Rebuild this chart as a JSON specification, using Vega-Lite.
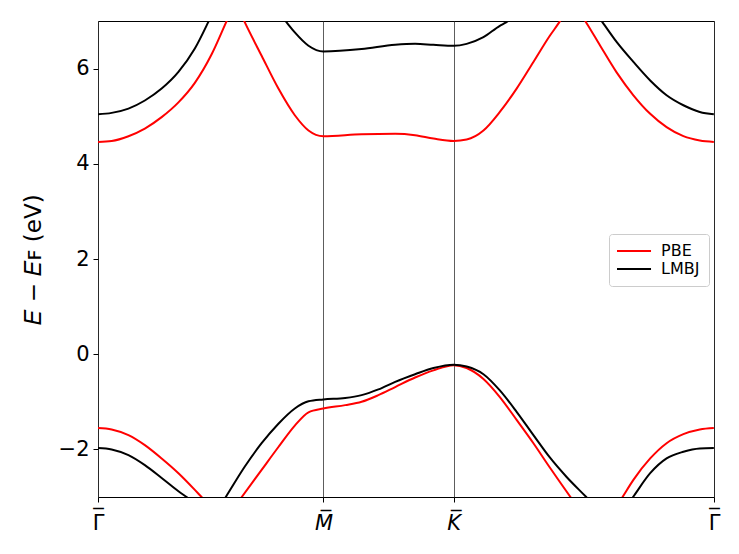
{
  "$schema": "https://vega.github.io/schema/vega-lite/v6.json",
  "autosize": {"type": "none"},
  "padding": {"left": 98, "top": 21, "right": 25, "bottom": 57},
  "width": 616,
  "height": 476,
  "background": "white",
  "config": {
    "font": "DejaVu Sans",
    "view": {"stroke": "#000", "strokeWidth": 1},
    "axis": {
      "domain": false,
      "tickColor": "#000",
      "labelColor": "#000",
      "titleColor": "#000",
      "tickSize": 5,
      "tickWidth": 1,
      "labelFont": "DejaVu Sans",
      "titleFont": "DejaVu Sans",
      "labelFontSize": 21,
      "titleFontSize": 23,
      "titleFontWeight": "normal"
    }
  },
  "datasets": {
    "bands": [
      {"method": "PBE", "band": "c", "k": 0, "E": 4.46},
      {"method": "PBE", "band": "c", "k": 0.035, "E": 4.48},
      {"method": "PBE", "band": "c", "k": 0.078, "E": 4.58},
      {"method": "PBE", "band": "c", "k": 0.12, "E": 4.74},
      {"method": "PBE", "band": "c", "k": 0.163, "E": 4.98},
      {"method": "PBE", "band": "c", "k": 0.206, "E": 5.29},
      {"method": "PBE", "band": "c", "k": 0.248, "E": 5.7},
      {"method": "PBE", "band": "c", "k": 0.291, "E": 6.3},
      {"method": "PBE", "band": "c", "k": 0.328, "E": 6.97},
      {"method": "PBE", "band": "c", "k": 0.352, "E": 7.4},
      {"method": "PBE", "band": "c", "k": 0.376, "E": 6.97},
      {"method": "PBE", "band": "c", "k": 0.419, "E": 6.27},
      {"method": "PBE", "band": "c", "k": 0.462, "E": 5.58},
      {"method": "PBE", "band": "c", "k": 0.504, "E": 5.02},
      {"method": "PBE", "band": "c", "k": 0.539, "E": 4.7},
      {"method": "PBE", "band": "c", "k": 0.577, "E": 4.58},
      {"method": "PBE", "band": "c", "k": 0.675, "E": 4.62},
      {"method": "PBE", "band": "c", "k": 0.761, "E": 4.63},
      {"method": "PBE", "band": "c", "k": 0.812, "E": 4.6},
      {"method": "PBE", "band": "c", "k": 0.859, "E": 4.53},
      {"method": "PBE", "band": "c", "k": 0.911, "E": 4.48},
      {"method": "PBE", "band": "c", "k": 0.944, "E": 4.51},
      {"method": "PBE", "band": "c", "k": 0.987, "E": 4.7},
      {"method": "PBE", "band": "c", "k": 1.029, "E": 5.09},
      {"method": "PBE", "band": "c", "k": 1.072, "E": 5.58},
      {"method": "PBE", "band": "c", "k": 1.115, "E": 6.14},
      {"method": "PBE", "band": "c", "k": 1.157, "E": 6.69},
      {"method": "PBE", "band": "c", "k": 1.181, "E": 6.97},
      {"method": "PBE", "band": "c", "k": 1.214, "E": 7.4},
      {"method": "PBE", "band": "c", "k": 1.25, "E": 6.97},
      {"method": "PBE", "band": "c", "k": 1.286, "E": 6.48},
      {"method": "PBE", "band": "c", "k": 1.328, "E": 5.92},
      {"method": "PBE", "band": "c", "k": 1.371, "E": 5.44},
      {"method": "PBE", "band": "c", "k": 1.414, "E": 5.05},
      {"method": "PBE", "band": "c", "k": 1.456, "E": 4.77},
      {"method": "PBE", "band": "c", "k": 1.499, "E": 4.58},
      {"method": "PBE", "band": "c", "k": 1.541, "E": 4.49},
      {"method": "PBE", "band": "c", "k": 1.577, "E": 4.46},

      {"method": "PBE", "band": "v", "k": 0, "E": -1.55},
      {"method": "PBE", "band": "v", "k": 0.035, "E": -1.58},
      {"method": "PBE", "band": "v", "k": 0.078, "E": -1.7},
      {"method": "PBE", "band": "v", "k": 0.12, "E": -1.91},
      {"method": "PBE", "band": "v", "k": 0.163, "E": -2.19},
      {"method": "PBE", "band": "v", "k": 0.206, "E": -2.5},
      {"method": "PBE", "band": "v", "k": 0.248, "E": -2.85},
      {"method": "PBE", "band": "v", "k": 0.264, "E": -2.99},
      {"method": "PBE", "band": "v", "k": 0.323, "E": -3.5},
      {"method": "PBE", "band": "v", "k": 0.369, "E": -2.99},
      {"method": "PBE", "band": "v", "k": 0.419, "E": -2.43},
      {"method": "PBE", "band": "v", "k": 0.462, "E": -1.95},
      {"method": "PBE", "band": "v", "k": 0.504, "E": -1.5},
      {"method": "PBE", "band": "v", "k": 0.539, "E": -1.22},
      {"method": "PBE", "band": "v", "k": 0.577, "E": -1.14},
      {"method": "PBE", "band": "v", "k": 0.633, "E": -1.07},
      {"method": "PBE", "band": "v", "k": 0.675, "E": -1.0},
      {"method": "PBE", "band": "v", "k": 0.718, "E": -0.86},
      {"method": "PBE", "band": "v", "k": 0.761, "E": -0.69},
      {"method": "PBE", "band": "v", "k": 0.812, "E": -0.49},
      {"method": "PBE", "band": "v", "k": 0.859, "E": -0.34},
      {"method": "PBE", "band": "v", "k": 0.911, "E": -0.23},
      {"method": "PBE", "band": "v", "k": 0.944, "E": -0.29},
      {"method": "PBE", "band": "v", "k": 0.987, "E": -0.52},
      {"method": "PBE", "band": "v", "k": 1.029, "E": -0.9},
      {"method": "PBE", "band": "v", "k": 1.072, "E": -1.38},
      {"method": "PBE", "band": "v", "k": 1.115, "E": -1.87},
      {"method": "PBE", "band": "v", "k": 1.157, "E": -2.38},
      {"method": "PBE", "band": "v", "k": 1.209, "E": -2.99},
      {"method": "PBE", "band": "v", "k": 1.281, "E": -3.8},
      {"method": "PBE", "band": "v", "k": 1.344, "E": -2.99},
      {"method": "PBE", "band": "v", "k": 1.371, "E": -2.64},
      {"method": "PBE", "band": "v", "k": 1.414, "E": -2.19},
      {"method": "PBE", "band": "v", "k": 1.456, "E": -1.87},
      {"method": "PBE", "band": "v", "k": 1.499, "E": -1.68},
      {"method": "PBE", "band": "v", "k": 1.541, "E": -1.58},
      {"method": "PBE", "band": "v", "k": 1.577, "E": -1.55},

      {"method": "LMBJ", "band": "c", "k": 0, "E": 5.04},
      {"method": "LMBJ", "band": "c", "k": 0.035, "E": 5.07},
      {"method": "LMBJ", "band": "c", "k": 0.078, "E": 5.16},
      {"method": "LMBJ", "band": "c", "k": 0.12, "E": 5.33},
      {"method": "LMBJ", "band": "c", "k": 0.163, "E": 5.58},
      {"method": "LMBJ", "band": "c", "k": 0.206, "E": 5.93},
      {"method": "LMBJ", "band": "c", "k": 0.248, "E": 6.42},
      {"method": "LMBJ", "band": "c", "k": 0.282, "E": 6.97},
      {"method": "LMBJ", "band": "c", "k": 0.312, "E": 7.5},
      {"method": "LMBJ", "band": "c", "k": 0.35, "E": 7.9},
      {"method": "LMBJ", "band": "c", "k": 0.4, "E": 7.9},
      {"method": "LMBJ", "band": "c", "k": 0.44, "E": 7.4},
      {"method": "LMBJ", "band": "c", "k": 0.483, "E": 6.97},
      {"method": "LMBJ", "band": "c", "k": 0.504, "E": 6.76},
      {"method": "LMBJ", "band": "c", "k": 0.539, "E": 6.48},
      {"method": "LMBJ", "band": "c", "k": 0.577, "E": 6.36},
      {"method": "LMBJ", "band": "c", "k": 0.675, "E": 6.41},
      {"method": "LMBJ", "band": "c", "k": 0.761, "E": 6.5},
      {"method": "LMBJ", "band": "c", "k": 0.812, "E": 6.52},
      {"method": "LMBJ", "band": "c", "k": 0.859, "E": 6.5},
      {"method": "LMBJ", "band": "c", "k": 0.911, "E": 6.48},
      {"method": "LMBJ", "band": "c", "k": 0.944, "E": 6.52},
      {"method": "LMBJ", "band": "c", "k": 0.987, "E": 6.66},
      {"method": "LMBJ", "band": "c", "k": 1.029, "E": 6.9},
      {"method": "LMBJ", "band": "c", "k": 1.045, "E": 6.97},
      {"method": "LMBJ", "band": "c", "k": 1.1, "E": 7.4},
      {"method": "LMBJ", "band": "c", "k": 1.17, "E": 7.7},
      {"method": "LMBJ", "band": "c", "k": 1.234, "E": 7.6},
      {"method": "LMBJ", "band": "c", "k": 1.292, "E": 6.97},
      {"method": "LMBJ", "band": "c", "k": 1.328, "E": 6.56},
      {"method": "LMBJ", "band": "c", "k": 1.371, "E": 6.14},
      {"method": "LMBJ", "band": "c", "k": 1.414, "E": 5.75},
      {"method": "LMBJ", "band": "c", "k": 1.456, "E": 5.44},
      {"method": "LMBJ", "band": "c", "k": 1.499, "E": 5.23},
      {"method": "LMBJ", "band": "c", "k": 1.541, "E": 5.09},
      {"method": "LMBJ", "band": "c", "k": 1.577, "E": 5.04},

      {"method": "LMBJ", "band": "v", "k": 0, "E": -1.97},
      {"method": "LMBJ", "band": "v", "k": 0.035, "E": -2.0},
      {"method": "LMBJ", "band": "v", "k": 0.078, "E": -2.12},
      {"method": "LMBJ", "band": "v", "k": 0.12, "E": -2.33},
      {"method": "LMBJ", "band": "v", "k": 0.163, "E": -2.6},
      {"method": "LMBJ", "band": "v", "k": 0.206, "E": -2.88},
      {"method": "LMBJ", "band": "v", "k": 0.225, "E": -2.99},
      {"method": "LMBJ", "band": "v", "k": 0.297, "E": -3.39},
      {"method": "LMBJ", "band": "v", "k": 0.328, "E": -2.99},
      {"method": "LMBJ", "band": "v", "k": 0.376, "E": -2.36},
      {"method": "LMBJ", "band": "v", "k": 0.419, "E": -1.87},
      {"method": "LMBJ", "band": "v", "k": 0.462, "E": -1.46},
      {"method": "LMBJ", "band": "v", "k": 0.504, "E": -1.14},
      {"method": "LMBJ", "band": "v", "k": 0.539, "E": -0.99},
      {"method": "LMBJ", "band": "v", "k": 0.577, "E": -0.95},
      {"method": "LMBJ", "band": "v", "k": 0.633, "E": -0.92},
      {"method": "LMBJ", "band": "v", "k": 0.675, "E": -0.86},
      {"method": "LMBJ", "band": "v", "k": 0.718, "E": -0.74},
      {"method": "LMBJ", "band": "v", "k": 0.761, "E": -0.58},
      {"method": "LMBJ", "band": "v", "k": 0.812, "E": -0.42},
      {"method": "LMBJ", "band": "v", "k": 0.859, "E": -0.29},
      {"method": "LMBJ", "band": "v", "k": 0.911, "E": -0.22},
      {"method": "LMBJ", "band": "v", "k": 0.944, "E": -0.26},
      {"method": "LMBJ", "band": "v", "k": 0.987, "E": -0.42},
      {"method": "LMBJ", "band": "v", "k": 1.029, "E": -0.76},
      {"method": "LMBJ", "band": "v", "k": 1.072, "E": -1.21},
      {"method": "LMBJ", "band": "v", "k": 1.115, "E": -1.7},
      {"method": "LMBJ", "band": "v", "k": 1.157, "E": -2.17},
      {"method": "LMBJ", "band": "v", "k": 1.2, "E": -2.58},
      {"method": "LMBJ", "band": "v", "k": 1.249, "E": -2.99},
      {"method": "LMBJ", "band": "v", "k": 1.319, "E": -3.58},
      {"method": "LMBJ", "band": "v", "k": 1.371, "E": -2.99},
      {"method": "LMBJ", "band": "v", "k": 1.414, "E": -2.5},
      {"method": "LMBJ", "band": "v", "k": 1.456, "E": -2.19},
      {"method": "LMBJ", "band": "v", "k": 1.499, "E": -2.05},
      {"method": "LMBJ", "band": "v", "k": 1.541, "E": -1.98},
      {"method": "LMBJ", "band": "v", "k": 1.577, "E": -1.97}
    ]
  },
  "data": {"name": "bands"},
  "encoding": {
    "x": {
      "field": "k",
      "type": "quantitative",
      "scale": {"domain": [0, 1.5774], "nice": false, "zero": false},
      "axis": {
        "title": null,
        "values": [0, 0.5774, 0.9107, 1.5774],
        "labelExpr": "datum.value < 0.1 || datum.value > 1.5 ? ['‾', 'Γ'] : datum.value < 0.7 ? 'M\u0305' : 'K\u0305'",
        "labelFontStyle": {"condition": {"test": "datum.value > 0.3 && datum.value < 1.2", "value": "italic"}, "value": "normal"},
        "labelPadding": {"condition": {"test": "datum.value < 0.1 || datum.value > 1.5", "value": 4}, "value": 10},
        "labelLineHeight": 6,
        "labelFlush": false,
        "grid": true,
        "gridColor": "#333",
        "gridWidth": 0.8
      }
    },
    "y": {
      "field": "E",
      "type": "quantitative",
      "scale": {"domain": [-3, 7], "nice": false, "zero": false},
      "axis": {
        "title": "𝐸 − 𝐸ꜰ (eV)",
        "values": [-2, 0, 2, 4, 6],
        "grid": false,
        "labelPadding": 4,
        "titlePadding": 13
      }
    },
    "detail": {"field": "band"},
    "color": {
      "field": "method",
      "type": "nominal",
      "scale": {"domain": ["PBE", "LMBJ"], "range": ["#ff0000", "#000000"]},
      "legend": {
        "title": null,
        "orient": "none",
        "legendX": 511,
        "legendY": 213,
        "symbolType": "M-1.5,0H4.17",
        "symbolSize": 144,
        "symbolStrokeWidth": 2,
        "labelFontSize": 16,
        "labelFont": "DejaVu Sans",
        "labelColor": "#000",
        "labelOffset": 27,
        "rowPadding": 2,
        "padding": 9,
        "strokeColor": "#cccccc",
        "fillColor": "white",
        "cornerRadius": 3
      }
    }
  },
  "layer": [
    {
      "transform": [{"filter": "datum.method === 'PBE'"}],
      "mark": {"type": "line", "interpolate": "monotone", "clip": true, "strokeWidth": 2}
    },
    {
      "transform": [{"filter": "datum.method === 'LMBJ'"}],
      "mark": {"type": "line", "interpolate": "monotone", "clip": true, "strokeWidth": 2}
    }
  ]
}
